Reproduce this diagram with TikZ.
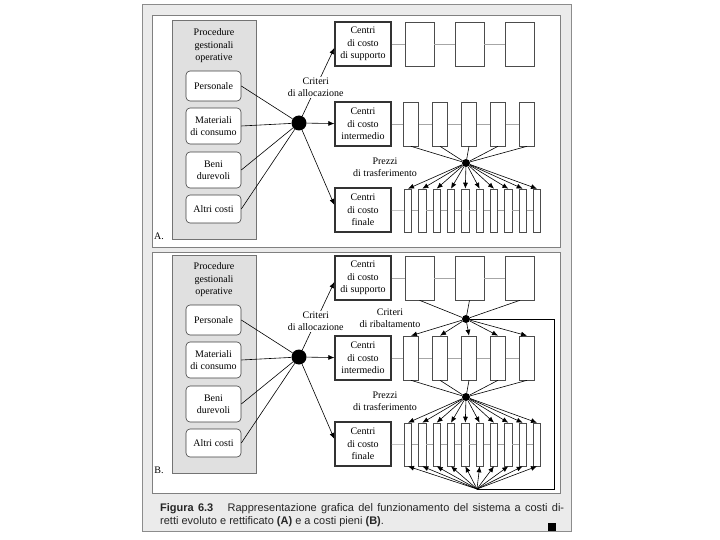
\documentclass[tikz,border=0pt]{standalone}
\usepackage{fontspec}
\setmainfont{Liberation Serif}
\newfontfamily\didafont{Liberation Sans}
\usetikzlibrary{arrows.meta}

\begin{document}
\begin{tikzpicture}[x=1pt, y=-1pt,
    font=\fontsize{10}{12.5}\selectfont,
    centro/.style={draw=black!80, line width=1.3pt, fill=white, minimum width=56pt,
      minimum height=44pt, inner sep=0pt, align=center},
    cella/.style={draw=black!70, line width=0.6pt, fill=white, minimum height=44pt, inner sep=0pt},
    voce/.style={draw=black!75, line width=0.6pt, fill=white, rounded corners=4pt,
      minimum width=55pt, inner sep=0pt, align=center},
    punto/.style={circle, fill=black, inner sep=0pt, minimum size=#1},
    punto/.default=8pt,
    freccia/.style={-{Latex[length=6pt,width=5pt]}, line width=0.6pt},
    filo/.style={draw=black!35, line width=0.5pt},
    raggio/.style={line width=0.6pt},
    etichetta/.style={align=center, fill=white, inner sep=1pt}]
    \useasboundingbox (0,0) rectangle (720,540);

    % cornice e pannelli
    \draw[black!45, fill=black!8] (142,4) rectangle (571,531);
    \draw[black!50, fill=white] (152,15) rectangle (560,247);
    \draw[black!50, fill=white] (152,252) rectangle (560,493);

    % parte comune dei due schemi
    \foreach \p/\dy/\sigla in {a/0/A., b/234/B.} {
    \begin{scope}[shift={(0,\dy)}, name prefix=\p-]
        \node[draw=black!55, line width=1pt, fill=black!12, minimum width=84pt, minimum height=218pt, inner sep=0pt] (proc) at (214,130) {};
        \node[align=center] (proctit) at (214,46) {Procedure\\gestionali\\operative};
        \node[voce, minimum height=30pt] (pers) at (213.5,86) {Personale};
        \node[voce, minimum height=36pt] (mat) at (213.5,126) {Materiali\\di consumo};
        \node[voce, minimum height=36pt] (beni) at (213.5,170) {Beni\\durevoli};
        \node[voce, minimum height=28pt] (altri) at (213.5,209) {Altri costi};
        \node (sigla) at (159,236) {\sigla};

        \node[punto=15pt] (alloc) at (299,123) {};
        \foreach \v in {pers,mat,beni,altri}
            \draw[raggio] (\v.east) -- (alloc);

        \node[centro] (supp) at (363,44) {Centri\\di costo\\di supporto};
        \node[centro] (inter) at (363,124) {Centri\\di costo\\intermedio};
        \node[centro] (fin) at (363,210) {Centri\\di costo\\finale};

        \draw[freccia] (alloc) -- node[etichetta, pos=0.42] {Criteri\\di allocazione} (supp.188);
        \draw[freccia] (alloc) -- (inter);
        \draw[freccia] (alloc) -- (fin.170);

        % centri di supporto
        \foreach \k/\cx in {1/419.5, 2/469.5, 3/520}
            \node[cella, minimum width=29pt] (s\k) at (\cx,44) {};
        \draw[filo] (supp) -- (s1) (s1) -- (s2) (s2) -- (s3);

        % centri intermedi
        \foreach \k in {1,...,5}
            \node[cella, minimum width=15pt] (i\k) at ({411+29*(\k-1)},124) {};
        \draw[filo] (inter) -- (i1);
        \foreach \k [count=\j from 2] in {1,...,4}
            \draw[filo] (i\k) -- (i\j);

        % centri finali
        \foreach \k in {1,...,10}
            \node[cella, minimum width=7.5pt, minimum height=43pt] (f\k) at ({408+14.33*(\k-1)},210.5) {};
        \draw[filo] (fin) -- (f1);
        \foreach \k [count=\j from 2] in {1,...,9}
            \draw[filo] (f\k) -- (f\j);

        % prezzi di trasferimento
        \node[punto] (trasf) at (466,163) {};
        \foreach \k in {1,...,5}
            \draw[raggio] (i\k.south) -- (trasf);
        \node[align=center] (prezzi) at (385,167) {Prezzi\\di trasferimento};
        \foreach \k in {1,...,10}
            \draw[freccia] (trasf) -- (f\k.north);
    \end{scope}
    }

    % solo nello schema B: ribaltamento
    \begin{scope}[shift={(0,234)}, name prefix=b-]
        \node[punto] (ribal) at (466,85) {};
        \foreach \k in {1,2,3}
            \draw[raggio] (s\k.south) -- (ribal);
        \node[align=center] (critrib) at (390,84) {Criteri\\di ribaltamento};
        \foreach \k in {1,...,5}
            \draw[freccia] (ribal) -- (i\k.north);
        \coordinate (base) at (477,255);
        \draw[raggio] (ribal) -- (554,85) -- (554,255) -- (base);
        \foreach \k in {1,...,10}
            \draw[freccia] (base) -- (f\k.south);
    \end{scope}

    % didascalia
    \node[anchor=north west, inner sep=0pt, align=left, text=black!85,
        font=\didafont\fontsize{11}{13}\selectfont] (dida) at (160,503)
        {\makebox[404pt][s]{\textbf{Figura 6.3}\hspace{10pt} Rappresentazione grafica del funzionamento del sistema a costi di-}\\
         retti evoluto e rettificato \textbf{(A)} e a costi pieni \textbf{(B)}.};
    \node[fill=black, minimum size=8pt, inner sep=0pt] (quadro) at (552,527) {};
\end{tikzpicture}
\end{document}
